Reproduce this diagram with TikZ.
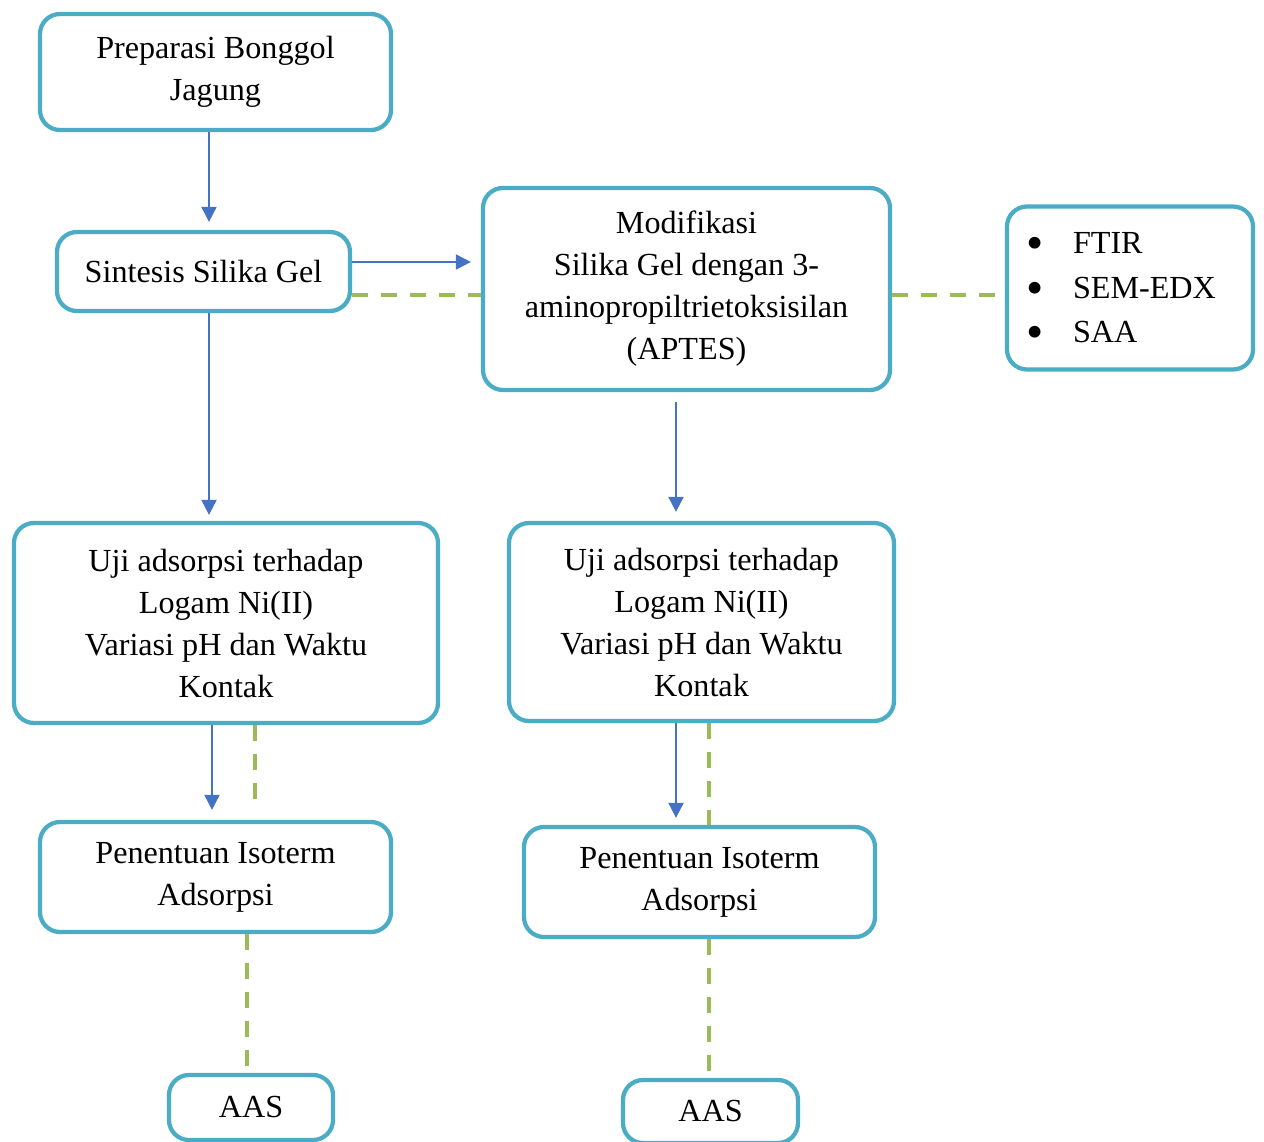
\documentclass[tikz,border=0pt]{standalone}
\usepackage{fontspec}
\setmainfont{Liberation Serif}
\usepackage{tikz}
\usetikzlibrary{arrows.meta}

\definecolor{boxblue}{HTML}{4BACC6}
\definecolor{arrowblue}{HTML}{4472C4}
\definecolor{dashgreen}{HTML}{9BBB59}

\newcommand{\itemdot}{\makebox[0.94cm][l]{\smash{\raisebox{-0.4ex}{\fontsize{28}{28}\selectfont\textbullet}}}}

\begin{document}
\begin{tikzpicture}[
    box/.style={draw=boxblue, line width=0.085cm, rounded corners=0.4cm, align=center, inner sep=0pt, fill=white},
    flow/.style={draw=arrowblue, line width=0.04cm, -{Triangle[length=0.3cm,width=0.3cm]}},
    link/.style={draw=dashgreen, line width=0.075cm, dash pattern=on 0.32cm off 0.26cm},
    font=\fontsize{18.3}{23.9}\selectfont
]
    \useasboundingbox (0,0) rectangle (25.28,-22.84);

    % Left column: preparation and synthesis
    \node[box, minimum width=7.02cm, minimum height=2.32cm] (prep) at (4.31,-1.44) {Preparasi Bonggol\\Jagung};
    \node[box, minimum width=5.86cm, minimum height=1.58cm] (sint) at (4.07,-5.43) {Sintesis Silika Gel};

    % Modification and characterisation
    \node[box, minimum width=8.14cm, minimum height=4.04cm] (modif) at (13.73,-5.78) {Modifikasi\\Silika Gel dengan 3-\\aminopropiltrietoksisilan\\(APTES)};
    \node[box, minimum width=4.92cm, minimum height=3.26cm, text width=4.16cm, align=left,
          font=\fontsize{18.3}{25.3}\selectfont] (char) at (22.60,-5.76)
        {\itemdot FTIR\\\itemdot SEM-EDX\\\itemdot SAA};

    % Adsorption tests
    \node[box, minimum width=8.48cm, minimum height=4.00cm] (ujiL) at (4.52,-12.46) {Uji adsorpsi terhadap\\Logam Ni(II)\\Variasi pH dan Waktu\\Kontak};
    \node[box, minimum width=7.70cm, minimum height=3.96cm] (ujiR) at (14.03,-12.44) {Uji adsorpsi terhadap\\Logam Ni(II)\\Variasi pH dan Waktu\\Kontak};

    % Isotherms
    \node[box, minimum width=7.02cm, minimum height=2.20cm] (penL) at (4.31,-17.54) {Penentuan Isoterm\\Adsorpsi};
    \node[box, minimum width=7.02cm, minimum height=2.20cm] (penR) at (13.99,-17.64) {Penentuan Isoterm\\Adsorpsi};

    % AAS
    \node[box, minimum width=3.28cm, minimum height=1.30cm] (aasL) at (5.02,-22.15) {AAS};
    \node[box, minimum width=3.50cm, minimum height=1.26cm] (aasR) at (14.21,-22.23) {AAS};

    % guide coordinates for the connectors
    \coordinate (colA) at (4.18,0);
    \coordinate (colB) at (4.24,0);
    \coordinate (colC) at (5.10,0);
    \coordinate (colD) at (4.94,0);
    \coordinate (colE) at (13.52,0);
    \coordinate (colF) at (14.18,0);
    \coordinate (rowA) at (0,-5.24);
    \coordinate (rowB) at (0,-5.90);

    % Arrows
    \draw[flow, shorten >=0.16cm] (prep.south -| colA) -- (sint.north -| colA);
    \draw[flow, shorten >=0.2cm] (sint.east |- rowA) -- (modif.west |- rowA);
    \draw[flow, shorten >=0.12cm] (sint.south -| colA) -- (ujiL.north -| colA);
    \draw[flow, shorten <=0.2cm, shorten >=0.18cm] (modif.south -| colE) -- (ujiR.north -| colE);
    \draw[flow, shorten >=0.2cm] (ujiL.south -| colB) -- (penL.north -| colB);
    \draw[flow, shorten >=0.14cm] (ujiR.south -| colE) -- (penR.north -| colE);

    % Dashed links
    \draw[link] (sint.east |- rowB) -- (modif.west |- rowB);
    \draw[link] (modif.east |- rowB) -- (char.west |- rowB);
    \draw[link, shorten >=0.2cm] (ujiL.south -| colC) -- (penL.north -| colC);
    \draw[link] (ujiR.south -| colF) -- (penR.north -| colF);
    \draw[link] (penL.south -| colD) -- (aasL.north -| colD);
    \draw[link] (penR.south -| colF) -- (aasR.north -| colF);

\end{tikzpicture}
\end{document}
